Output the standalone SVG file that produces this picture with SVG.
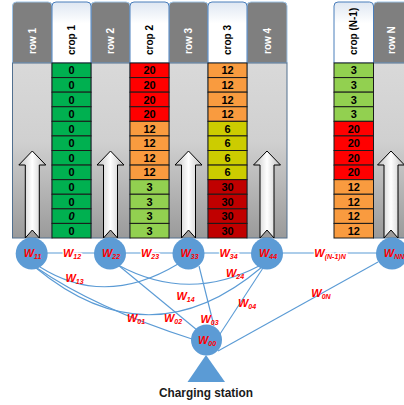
<svg xmlns="http://www.w3.org/2000/svg" width="404" height="405" viewBox="0 0 404 405">
<defs>
<style>
.rowhead{fill:#7f7f7f;stroke:#9dc3e6;stroke-width:1}
.crophead{fill:url(#hg);stroke:#4a7ebb;stroke-width:1}
.rowbody{fill:url(#rg);stroke:#52708f;stroke-width:1}
.ht{font-family:"Liberation Sans",Arial,sans-serif;font-weight:bold;font-size:10px;dominant-baseline:central}
.hw{fill:#ffffff}
.hb{fill:#000000}
.cell{stroke:#1a1a1a;stroke-width:1}
.n{font-family:"Liberation Sans",Arial,sans-serif;font-weight:bold;font-size:11px;text-anchor:middle;fill:#000}
.G{fill:#00b050}.R{fill:#ff0000}.O{fill:#f99b3f}.L{fill:#92d050}.Y{fill:#cccc00}.D{fill:#c00000}
.arrow{fill:url(#ag);stroke:#000;stroke-width:1}
.node{fill:#5b9bd5;filter:url(#soft)}
.edge{fill:none;stroke:#5b9bd5;stroke-width:1.1}
.w{font-family:"Liberation Sans",Arial,sans-serif;font-weight:bold;font-style:italic;font-size:11px;fill:#ff0000;text-anchor:middle}
.wl{paint-order:stroke;stroke:#ffffff;stroke-width:3}
.s{font-size:7px}
</style>
<linearGradient id="hg" x1="0" y1="0" x2="0" y2="1">
<stop offset="0" stop-color="#dfe7f2"/><stop offset="0.35" stop-color="#ffffff"/><stop offset="1" stop-color="#ffffff"/>
</linearGradient>
<linearGradient id="rg" x1="0" y1="0" x2="0" y2="1">
<stop offset="0" stop-color="#d9d9d9"/><stop offset="0.45" stop-color="#d0d0d0"/><stop offset="1" stop-color="#9a9a9a"/>
</linearGradient>
<linearGradient id="ag" x1="0" y1="0" x2="1" y2="0">
<stop offset="0" stop-color="#bfbfbf"/><stop offset="0.5" stop-color="#ffffff"/><stop offset="1" stop-color="#bfbfbf"/>
</linearGradient>
<filter id="soft" x="-20%" y="-20%" width="140%" height="140%">
<feGaussianBlur in="SourceGraphic" stdDeviation="0.6"/>
</filter>
<path id="arr" d="M0,151 L13.5,165 L7,165 L7,238 L0,230 L-7,238 L-7,165 L-13.5,165 Z"/>
</defs>

<!-- row columns -->
<g id="row1">
<path class="rowhead" d="M12.5,63 V6 Q12.5,2 16.5,2 H48 Q52,2 52,6 V63 Z"/>
<rect class="rowbody" x="12.5" y="63" width="39.5" height="175"/>
<use href="#arr" class="arrow" x="32.3"/>
<text class="ht hw" transform="translate(32.5,54) rotate(-90)">row 1</text>
</g>
<g id="row2">
<path class="rowhead" d="M91,63 V6 Q91,2 95,2 H126 Q130,2 130,6 V63 Z"/>
<rect class="rowbody" x="91" y="63" width="39" height="175"/>
<use href="#arr" class="arrow" x="110.5"/>
<text class="ht hw" transform="translate(110.5,54) rotate(-90)">row 2</text>
</g>
<g id="row3">
<path class="rowhead" d="M169,63 V6 Q169,2 173,2 H204 Q208,2 208,6 V63 Z"/>
<rect class="rowbody" x="169" y="63" width="39" height="175"/>
<use href="#arr" class="arrow" x="188.5"/>
<text class="ht hw" transform="translate(188.5,54) rotate(-90)">row 3</text>
</g>
<g id="row4">
<path class="rowhead" d="M247,63 V6 Q247,2 251,2 H283 Q287,2 287,6 V63 Z"/>
<rect class="rowbody" x="247" y="63" width="40" height="175"/>
<use href="#arr" class="arrow" x="267"/>
<text class="ht hw" transform="translate(267,54) rotate(-90)">row 4</text>
</g>
<g id="rowN">
<path class="rowhead" d="M373.5,63 V6 Q373.5,2 377.5,2 H406 Q410,2 410,6 V63 Z"/>
<rect class="rowbody" x="373.5" y="63" width="36" height="175"/>
<use href="#arr" class="arrow" x="391"/>
<text class="ht hw" transform="translate(391.5,54) rotate(-90)">row N</text>
</g>

<!-- crop columns -->
<g id="crop1">
<path class="crophead" d="M52,63 V6 Q52,2 56,2 H87 Q91,2 91,6 V63 Z"/>
<text class="ht hb" transform="translate(71.5,55) rotate(-90)">crop 1</text>
<g transform="translate(52,0)">
<rect class="cell G" x="0" y="63" width="39" height="14.58"/><text class="n" x="19.5" y="74.3">0</text>
<rect class="cell G" x="0" y="77.58" width="39" height="14.58"/><text class="n" x="19.5" y="88.9">0</text>
<rect class="cell G" x="0" y="92.17" width="39" height="14.58"/><text class="n" x="19.5" y="103.5">0</text>
<rect class="cell G" x="0" y="106.75" width="39" height="14.58"/><text class="n" x="19.5" y="118.1">0</text>
<rect class="cell G" x="0" y="121.33" width="39" height="14.58"/><text class="n" x="19.5" y="132.6">0</text>
<rect class="cell G" x="0" y="135.92" width="39" height="14.58"/><text class="n" x="19.5" y="147.2">0</text>
<rect class="cell G" x="0" y="150.5" width="39" height="14.58"/><text class="n" x="19.5" y="161.8">0</text>
<rect class="cell G" x="0" y="165.08" width="39" height="14.58"/><text class="n" x="19.5" y="176.4">0</text>
<rect class="cell G" x="0" y="179.67" width="39" height="14.58"/><text class="n" x="19.5" y="191">0</text>
<rect class="cell G" x="0" y="194.25" width="39" height="14.58"/><text class="n" x="19.5" y="205.5">0</text>
<rect class="cell G" x="0" y="208.83" width="39" height="14.58"/><text class="n" x="19.5" y="220.1" font-style="italic">0</text>
<rect class="cell G" x="0" y="223.42" width="39" height="14.58"/><text class="n" x="19.5" y="234.7">0</text>
</g>
</g>
<g id="crop2">
<path class="crophead" d="M130,63 V6 Q130,2 134,2 H165 Q169,2 169,6 V63 Z"/>
<text class="ht hb" transform="translate(149.5,55) rotate(-90)">crop 2</text>
<g transform="translate(130,0)">
<rect class="cell R" x="0" y="63" width="39" height="14.58"/><text class="n" x="19.5" y="74.3">20</text>
<rect class="cell R" x="0" y="77.58" width="39" height="14.58"/><text class="n" x="19.5" y="88.9">20</text>
<rect class="cell R" x="0" y="92.17" width="39" height="14.58"/><text class="n" x="19.5" y="103.5">20</text>
<rect class="cell R" x="0" y="106.75" width="39" height="14.58"/><text class="n" x="19.5" y="118.1">20</text>
<rect class="cell O" x="0" y="121.33" width="39" height="14.58"/><text class="n" x="19.5" y="132.6">12</text>
<rect class="cell O" x="0" y="135.92" width="39" height="14.58"/><text class="n" x="19.5" y="147.2">12</text>
<rect class="cell O" x="0" y="150.5" width="39" height="14.58"/><text class="n" x="19.5" y="161.8">12</text>
<rect class="cell O" x="0" y="165.08" width="39" height="14.58"/><text class="n" x="19.5" y="176.4">12</text>
<rect class="cell L" x="0" y="179.67" width="39" height="14.58"/><text class="n" x="19.5" y="191">3</text>
<rect class="cell L" x="0" y="194.25" width="39" height="14.58"/><text class="n" x="19.5" y="205.5">3</text>
<rect class="cell L" x="0" y="208.83" width="39" height="14.58"/><text class="n" x="19.5" y="220.1">3</text>
<rect class="cell L" x="0" y="223.42" width="39" height="14.58"/><text class="n" x="19.5" y="234.7">3</text>
</g>
</g>
<g id="crop3">
<path class="crophead" d="M208,63 V6 Q208,2 212,2 H243 Q247,2 247,6 V63 Z"/>
<text class="ht hb" transform="translate(227.5,55) rotate(-90)">crop 3</text>
<g transform="translate(208,0)">
<rect class="cell O" x="0" y="63" width="39" height="14.58"/><text class="n" x="19.5" y="74.3">12</text>
<rect class="cell O" x="0" y="77.58" width="39" height="14.58"/><text class="n" x="19.5" y="88.9">12</text>
<rect class="cell O" x="0" y="92.17" width="39" height="14.58"/><text class="n" x="19.5" y="103.5">12</text>
<rect class="cell O" x="0" y="106.75" width="39" height="14.58"/><text class="n" x="19.5" y="118.1">12</text>
<rect class="cell Y" x="0" y="121.33" width="39" height="14.58"/><text class="n" x="19.5" y="132.6">6</text>
<rect class="cell Y" x="0" y="135.92" width="39" height="14.58"/><text class="n" x="19.5" y="147.2">6</text>
<rect class="cell Y" x="0" y="150.5" width="39" height="14.58"/><text class="n" x="19.5" y="161.8">6</text>
<rect class="cell Y" x="0" y="165.08" width="39" height="14.58"/><text class="n" x="19.5" y="176.4">6</text>
<rect class="cell D" x="0" y="179.67" width="39" height="14.58"/><text class="n" x="19.5" y="191">30</text>
<rect class="cell D" x="0" y="194.25" width="39" height="14.58"/><text class="n" x="19.5" y="205.5">30</text>
<rect class="cell D" x="0" y="208.83" width="39" height="14.58"/><text class="n" x="19.5" y="220.1">30</text>
<rect class="cell D" x="0" y="223.42" width="39" height="14.58"/><text class="n" x="19.5" y="234.7">30</text>
</g>
</g>
<g id="cropN1">
<path class="crophead" d="M334,63 V6 Q334,2 338,2 H369.5 Q373.5,2 373.5,6 V63 Z"/>
<text class="ht hb" transform="translate(353.8,55) rotate(-90)">crop (N-1)</text>
<g transform="translate(334,0)">
<rect class="cell L" x="0" y="63" width="39.5" height="14.58"/><text class="n" x="19.75" y="74.3">3</text>
<rect class="cell L" x="0" y="77.58" width="39.5" height="14.58"/><text class="n" x="19.75" y="88.9">3</text>
<rect class="cell L" x="0" y="92.17" width="39.5" height="14.58"/><text class="n" x="19.75" y="103.5">3</text>
<rect class="cell L" x="0" y="106.75" width="39.5" height="14.58"/><text class="n" x="19.75" y="118.1">3</text>
<rect class="cell R" x="0" y="121.33" width="39.5" height="14.58"/><text class="n" x="19.75" y="132.6">20</text>
<rect class="cell R" x="0" y="135.92" width="39.5" height="14.58"/><text class="n" x="19.75" y="147.2">20</text>
<rect class="cell R" x="0" y="150.5" width="39.5" height="14.58"/><text class="n" x="19.75" y="161.8">20</text>
<rect class="cell R" x="0" y="165.08" width="39.5" height="14.58"/><text class="n" x="19.75" y="176.4">20</text>
<rect class="cell O" x="0" y="179.67" width="39.5" height="14.58"/><text class="n" x="19.75" y="191">12</text>
<rect class="cell O" x="0" y="194.25" width="39.5" height="14.58"/><text class="n" x="19.75" y="205.5">12</text>
<rect class="cell O" x="0" y="208.83" width="39.5" height="14.58"/><text class="n" x="19.75" y="220.1">12</text>
<rect class="cell O" x="0" y="223.42" width="39.5" height="14.58"/><text class="n" x="19.75" y="234.7">12</text>
</g>
</g>

<!-- connectors -->
<g id="connectors">
<line class="edge" x1="47" y1="253" x2="95" y2="253"/>
<line class="edge" x1="125" y1="253" x2="173" y2="253"/>
<line class="edge" x1="204" y1="253" x2="252" y2="253"/>
<line class="edge" x1="282" y1="253" x2="377" y2="253"/>
<path class="edge" d="M40,267 Q105,308 178,264"/>
<path class="edge" d="M36,268 Q150,362 262,267"/>
<path class="edge" d="M118,265 Q188,303 259,266"/>
<path class="edge" d="M37,268 Q95,308 192,339"/>
<line class="edge" x1="118" y1="265" x2="197" y2="330"/>
<line class="edge" x1="199" y1="266" x2="214" y2="326"/>
<line class="edge" x1="263" y1="268" x2="220" y2="334"/>
<line class="edge" x1="378" y1="262" x2="218" y2="351"/>
</g>

<!-- edge labels -->
<g id="edge-labels">
<text class="w wl" x="72" y="257">W<tspan class="s" dy="1.5">12</tspan></text>
<text class="w wl" x="150" y="257">W<tspan class="s" dy="1.5">23</tspan></text>
<text class="w wl" x="228.5" y="257">W<tspan class="s" dy="1.5">34</tspan></text>
<text class="w wl" x="330" y="257">W<tspan class="s" dy="1.5">(N-1)N</tspan></text>
<text class="w" x="74.5" y="282">W<tspan class="s" dy="1.5">13</tspan></text>
<text class="w" x="235" y="277">W<tspan class="s" dy="1.5">24</tspan></text>
<text class="w" x="185.5" y="300">W<tspan class="s" dy="1.5">14</tspan></text>
<text class="w" x="247" y="307">W<tspan class="s" dy="1.5">04</tspan></text>
<text class="w" x="321" y="297">W<tspan class="s" dy="1.5">0N</tspan></text>
<text class="w" x="136" y="322">W<tspan class="s" dy="1.5">01</tspan></text>
<text class="w" x="173" y="322">W<tspan class="s" dy="1.5">02</tspan></text>
<text class="w" x="209.5" y="323">W<tspan class="s" dy="1.5">03</tspan></text>
</g>

<!-- nodes -->
<g id="W11"><circle class="node" cx="31.7" cy="253.5" r="16"/><text class="w" x="32.5" y="257">W<tspan class="s" dy="1.5">11</tspan></text></g>
<g id="W22"><circle class="node" cx="110" cy="253.5" r="16"/><text class="w" x="111" y="257">W<tspan class="s" dy="1.5">22</tspan></text></g>
<g id="W33"><circle class="node" cx="188.5" cy="253.5" r="16"/><text class="w" x="189.5" y="257">W<tspan class="s" dy="1.5">33</tspan></text></g>
<g id="W44"><circle class="node" cx="267" cy="253.5" r="16"/><text class="w" x="268" y="257">W<tspan class="s" dy="1.5">44</tspan></text></g>
<g id="WNN"><circle class="node" cx="392" cy="253.5" r="16"/><text class="w" x="394" y="257">W<tspan class="s" dy="1.5">NN</tspan></text></g>
<g id="W00"><circle class="node" cx="206.5" cy="340" r="15.5"/><text class="w" x="207" y="344">W<tspan class="s" dy="1.5">00</tspan></text></g>
<g id="charging-station">
<polygon points="206,355 225,382 187.5,382" fill="#5b9bd5"/>
<text x="206" y="397" font-family="'Liberation Sans',Arial,sans-serif" font-weight="bold" font-size="13" text-anchor="middle" textLength="94" lengthAdjust="spacingAndGlyphs" fill="#1a1a1a">Charging station</text>
</g>
</svg>
